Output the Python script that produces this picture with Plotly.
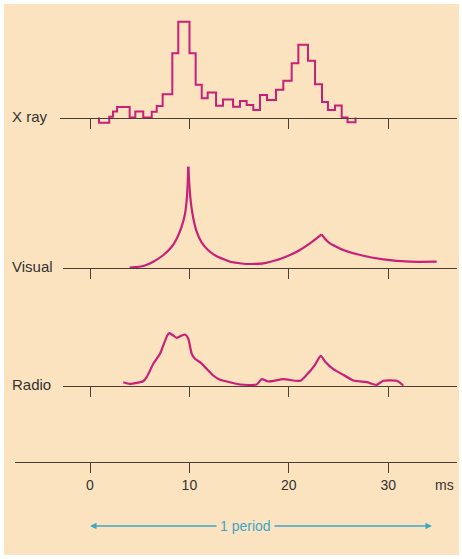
import plotly.graph_objects as go

# ---------------- data (time in ms, intensity in arbitrary units) ----------------
xray_edges = [0.91, 1.94, 2.31, 2.72, 3.99, 4.56, 5.36, 6.21, 6.71, 7.31, 8.28, 8.88,
              10.01, 10.63, 11.24, 11.84, 12.68, 13.38, 14.39, 15.09, 15.76, 16.43,
              17.10, 17.81, 18.71, 19.45, 20.29, 20.96, 21.93, 22.64, 23.34, 23.94,
              24.65, 25.32, 25.91, 26.71]
xray_counts = [-5.2, 0.8, 6, 10.5, 0, 6, 0, 5.8, 11.5, 23.2, 64.2, 95.8,
               64.2, 32.8, 19.2, 25, 11.7, 18, 10.8, 16.5, 12.5, 7.5,
               22.5, 17.5, 27.8, 36.8, 54.2, 72.8, 56.7, 33.3, 15.5, 7.5,
               12, 0, -4.7]

visual_t = [4.0, 5.37, 6.37, 7.38, 8.22, 8.72, 9.22, 9.56, 9.73, 9.83, 9.89,
            9.95, 10.05, 10.2, 10.4, 10.73, 11.24, 11.9, 12.75, 14.08, 15.76, 17.43,
            19.11, 20.8, 22.13, 23.31, 23.64, 24.14, 25.48, 27.5, 29.5, 32.2, 34.88]
visual_v = [0, 1.7, 6, 12.7, 21, 29, 41, 54, 68, 84, 101,
            90, 75, 61, 49, 36, 25, 17.5, 11.5, 6, 3.7, 4.4,
            8.7, 16, 24.4, 33.4, 29, 24.4, 17.7, 12, 8.4, 6, 6]
visual_cusps = [10, 25]   # indices of the two sharp maxima

radio_t = [3.35, 4.02, 5.36, 5.7, 6.37, 7.04, 7.37, 7.78, 7.98, 8.38, 8.72, 9.23,
           9.56, 9.89, 10.23, 10.56, 11.07, 11.74, 12.4, 13.08, 14.08, 15.09, 16.77,
           17.27, 17.94, 19.45, 21.13, 21.8, 22.64, 23.21, 23.64, 24.48, 25.48,
           26.49, 27.84, 28.84, 29.51, 30.86, 31.52]
radio_v = [3.3, 1.7, 4.3, 8.3, 21.7, 31.7, 40, 50, 52.3, 50, 47.7, 50,
           51, 46.7, 31.7, 26.7, 23.3, 16.7, 10, 5.7, 3.3, 1, 1,
           6.3, 4, 6.3, 4.7, 10.7, 20.7, 29.7, 24, 16.3, 10.7,
           5, 3.3, 0.7, 4.7, 4.7, 0]

tick_vals = [0, 10, 20, 30]
tick_text = ["0", "10", "20", "30"]
panel_labels = ["X ray", "Visual", "Radio"]
period_ms = 34.4
period_label = "1 period"
unit_label = "ms"

# ---------------- styling / layout constants ----------------
W, H = 462, 559
X0_PX, PX_PER_MS = 90.0, 9.94
CREAM = "#fce3c0"
AXC = "#4a3f35"
LINEC = "#c81f78"
CYAN = "#3fa6c8"
TXT = "#333333"
FONT = "Liberation Sans, Arial, sans-serif"
RIGHT_PX = 457

def xr(px):
    return (px - X0_PX) / PX_PER_MS

def fy(py):
    return 1 - py / H

def fx(px):
    return px / W

# panel geometry in pixels: left end of axis, baseline, top, bottom of y domain
panels = [
    dict(x0=60, base=117.5, top=12, bot=130, label_px=50),
    dict(x0=63, base=267.7, top=150, bot=275, label_px=55),
    dict(x0=63, base=385.5, top=320, bot=395, label_px=53),
    dict(x0=15, base=461.7, top=440, bot=470, label_px=None),
]

fig = go.Figure()

# X-ray histogram as a step line
xs = [xray_edges[0]] + xray_edges
ys = [0] + xray_counts + [0]
fig.add_trace(go.Scatter(x=xs, y=ys, mode="lines", line=dict(color=LINEC, width=2, shape="hv"),
                         xaxis="x", yaxis="y", hoverinfo="skip"))

# Visual light curve, split at cusps so spline keeps the sharp peaks
bounds = [0] + visual_cusps + [len(visual_t) - 1]
for a, b in zip(bounds[:-1], bounds[1:]):
    fig.add_trace(go.Scatter(x=visual_t[a:b + 1], y=visual_v[a:b + 1], mode="lines",
                             line=dict(color=LINEC, width=2.2, shape="spline", smoothing=0.4),
                             xaxis="x2", yaxis="y2", hoverinfo="skip"))

# Radio
fig.add_trace(go.Scatter(x=radio_t, y=radio_v, mode="lines",
                         line=dict(color=LINEC, width=2.2, shape="spline", smoothing=0.6),
                         xaxis="x3", yaxis="y3", hoverinfo="skip"))

# empty trace for the time axis subplot
fig.add_trace(go.Scatter(x=[], y=[], xaxis="x4", yaxis="y4"))

layout = dict(
    width=W, height=H, margin=dict(l=0, r=0, t=0, b=0),
    paper_bgcolor="white", plot_bgcolor="rgba(0,0,0,0)", showlegend=False,
    font=dict(family=FONT, size=14, color=TXT),
)
for i, p in enumerate(panels, 1):
    sfx = "" if i == 1 else str(i)
    layout["xaxis" + sfx] = dict(
        domain=[fx(p["x0"]), fx(RIGHT_PX)], range=[xr(p["x0"]), xr(RIGHT_PX)],
        anchor="free", position=fy(p["base"]), showline=True, linecolor=AXC, linewidth=1.3,
        ticks="outside", ticklen=10, tickwidth=1.4, tickcolor=AXC,
        tickmode="array", tickvals=tick_vals, ticktext=tick_text,
        showticklabels=(i == 4), tickfont=dict(size=14, color=TXT, family=FONT),
        showgrid=False, zeroline=False, fixedrange=True,
    )
    layout["yaxis" + sfx] = dict(
        domain=[fy(p["bot"]), fy(p["top"])],
        range=[-(p["bot"] - p["base"]), p["base"] - p["top"]],
        visible=False, anchor="x" + sfx, fixedrange=True,
    )
fig.update_layout(**layout)

# cream background panel
fig.add_shape(type="rect", xref="paper", yref="paper", x0=fx(4), x1=fx(459), y0=fy(555), y1=fy(4),
              fillcolor=CREAM, line=dict(width=0), layer="below")

# panel labels
for p, lab in zip(panels[:3], panel_labels):
    fig.add_annotation(text=lab, xref="paper", yref="paper", x=fx(p["label_px"]), y=fy(p["base"] - 1),
                       xanchor="right", yanchor="middle", showarrow=False,
                       font=dict(size=15, color=TXT, family=FONT))

# unit label
fig.add_annotation(text=unit_label, xref="x4", yref="paper", x=35.7, y=fy(485),
                   xanchor="center", yanchor="middle", showarrow=False,
                   font=dict(size=14, color=TXT, family=FONT))

# period arrow
label_t = 15.6
y_arrow = fy(526)
for tip in (0, period_ms):
    fig.add_annotation(text="", xref="x4", yref="paper", x=tip, y=y_arrow,
                       axref="x4", ayref="pixel", ax=label_t, ay=0, showarrow=True,
                       arrowhead=2, arrowsize=1, arrowwidth=1.3, arrowcolor=CYAN, standoff=0)
fig.add_annotation(text=period_label, xref="x4", yref="paper", x=label_t, y=y_arrow,
                   xanchor="center", yanchor="middle", showarrow=False, bgcolor=CREAM, borderpad=3,
                   font=dict(size=14, color=CYAN, family=FONT))

fig.write_html("out.html", config={"displayModeBar": False})
